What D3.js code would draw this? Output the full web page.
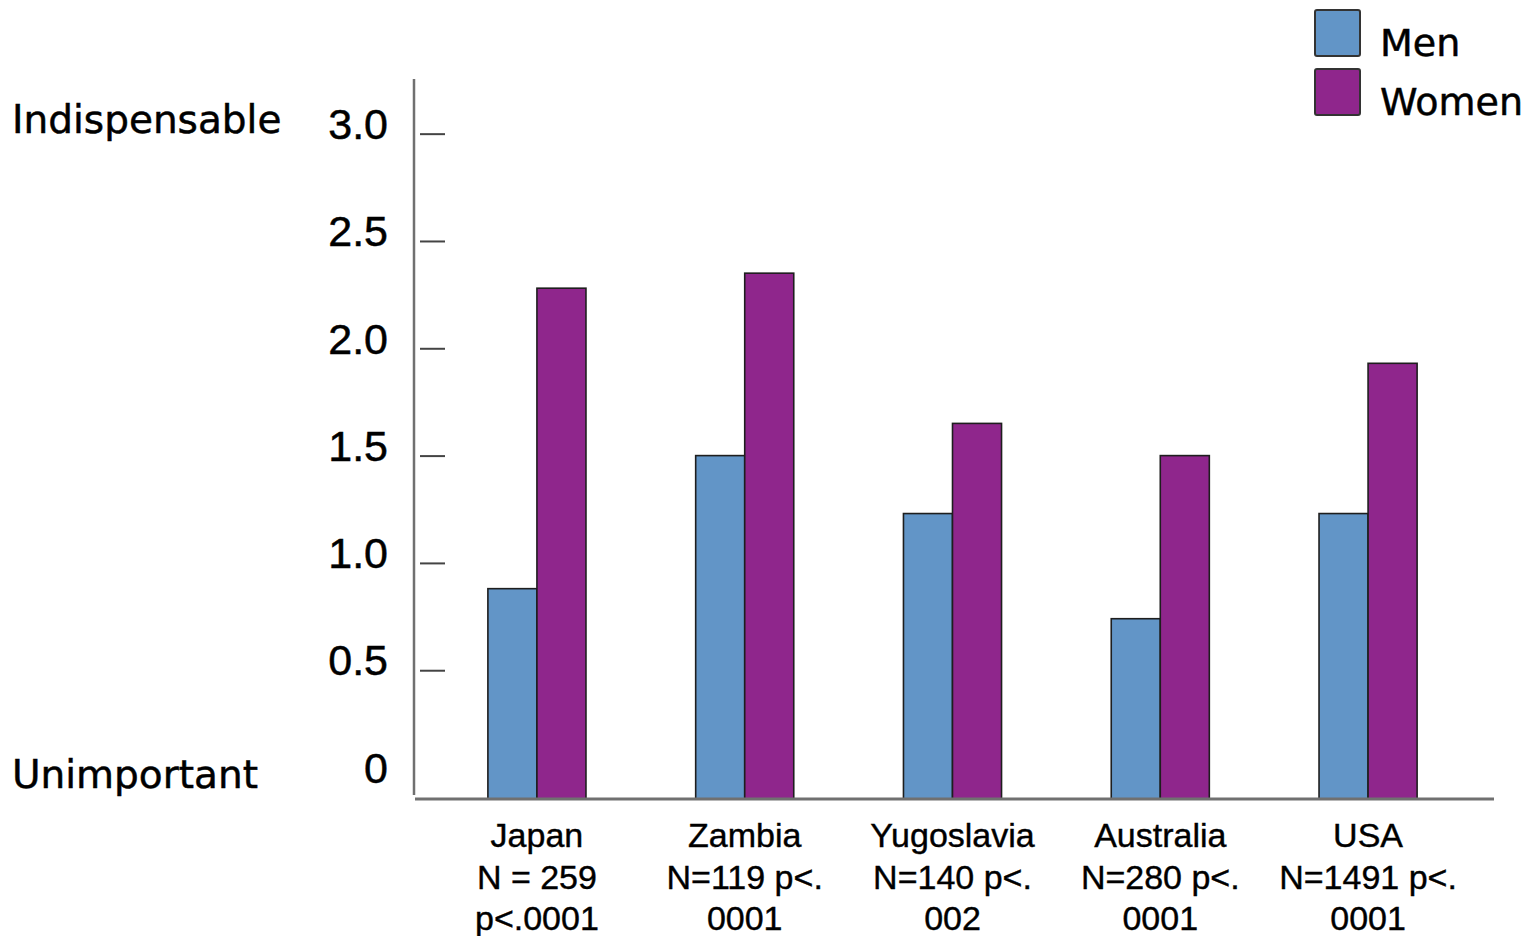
<!DOCTYPE html>
<html>
<head>
<meta charset="utf-8">
<script src="https://cdn.jsdelivr.net/npm/d3@7"></script>
<style>
  html, body { margin: 0; padding: 0; background: #fff; }
  svg { display: block; }
</style>
</head>
<body>
<script>
// ---- data ----
const countries = ["Japan", "Zambia", "Yugoslavia", "Australia", "USA"];
const countryLabels = [
  ["Japan", "N = 259", "p<.0001"],
  ["Zambia", "N=119 p<.", "0001"],
  ["Yugoslavia", "N=140 p<.", "002"],
  ["Australia", "N=280 p<.", "0001"],
  ["USA", "N=1491 p<.", "0001"]
];
const series = ["Men", "Women"];
const menValues = [0.88, 1.50, 1.23, 0.74, 1.23];
const womenValues = [2.28, 2.35, 1.65, 1.50, 1.93];
const tickValues = [0, 0.5, 1.0, 1.5, 2.0, 2.5, 3.0];
const tickLabels = ["0", "0.5", "1.0", "1.5", "2.0", "2.5", "3.0"];
const tickMarkValues = [0.5, 1.0, 1.5, 2.0, 2.5, 3.0];
const topLabel = "Indispensable";
const bottomLabel = "Unimportant";

const colors = { Men: "#6295c7", Women: "#8f268c" };

const W = 1533, H = 936;
const svg = d3.select("body").append("svg").attr("width", W).attr("height", H);
svg.append("rect").attr("width", W).attr("height", H).attr("fill", "#fff");

const y = d3.scaleLinear().domain([-0.1, 3.25]).range([799, 80]);
const x0 = d3.scaleBand().domain(countries).range([384, 1521])
  .paddingInner(0.528).paddingOuter(0.5);
const x1 = d3.scaleBand().domain(series).range([0, x0.bandwidth()]).padding(0);

const rows = countries.map((c, i) => ({ country: c, Men: menValues[i], Women: womenValues[i] }));

// bars
const groups = svg.append("g").selectAll("g").data(rows).join("g")
  .attr("transform", d => `translate(${x0(d.country)},0)`);
groups.selectAll("rect").data(d => series.map(s => ({ key: s, value: d[s] })))
  .join("rect")
  .attr("x", d => x1(d.key))
  .attr("width", x1.bandwidth())
  .attr("y", d => y(d.value))
  .attr("height", d => y(-0.1) - y(d.value))
  .attr("fill", d => colors[d.key])
  .attr("stroke", "#1e1e1e")
  .attr("stroke-width", 1.6);

// y axis line
svg.append("line")
  .attr("x1", 414).attr("x2", 414)
  .attr("y1", y(3.25) - 1).attr("y2", y(-0.1) - 4)
  .attr("stroke", "#707070").attr("stroke-width", 2.5);

// baseline
svg.append("line")
  .attr("x1", 415).attr("x2", 1494)
  .attr("y1", y(-0.1)).attr("y2", y(-0.1))
  .attr("stroke", "#707070").attr("stroke-width", 3);

// tick marks (detached from axis line)
const tickAxis = d3.axisRight(y).tickValues(tickMarkValues).tickSize(25).tickFormat("");
const tg = svg.append("g").attr("transform", "translate(420,0)").call(tickAxis);
tg.select(".domain").remove();
tg.selectAll(".tick line").attr("stroke", "#444").attr("stroke-width", 2);

// tick labels
const labelAxis = d3.axisLeft(y).tickValues(tickValues).tickSize(0).tickPadding(0)
  .tickFormat((d, i) => tickLabels[i]);
const lg = svg.append("g").attr("transform", "translate(388,0)").call(labelAxis);
lg.select(".domain").remove();
lg.selectAll(".tick text")
  .attr("font-family", "'Liberation Sans', Arial, sans-serif")
  .attr("font-size", 43)
  .attr("fill", "#000")
  .attr("stroke", "#000").attr("stroke-width", 0.5)
  .attr("dy", "0.32em")
  .attr("y", -9);

// left descriptive labels
svg.append("text").attr("x", 12).attr("y", 133).text(topLabel)
  .attr("font-family", "'DejaVu Sans', Verdana, sans-serif").attr("font-size", 39)
  .attr("fill", "#000").attr("stroke", "#000").attr("stroke-width", 0.5);
svg.append("text").attr("x", 12).attr("y", 788).text(bottomLabel)
  .attr("font-family", "'DejaVu Sans', Verdana, sans-serif").attr("font-size", 39)
  .attr("fill", "#000").attr("stroke", "#000").attr("stroke-width", 0.5);

// category labels
const cl = svg.append("g").selectAll("text").data(countries).join("text")
  .attr("x", d => x0(d) + x0.bandwidth() / 2)
  .attr("y", 847)
  .attr("text-anchor", "middle")
  .attr("font-family", "'Liberation Sans', Arial, sans-serif")
  .attr("font-size", 34)
  .attr("fill", "#000").attr("stroke", "#000").attr("stroke-width", 0.4);
cl.selectAll("tspan").data((d, i) => countryLabels[i]).join("tspan")
  .attr("x", function () { return d3.select(this.parentNode).attr("x"); })
  .attr("dy", (d, i) => i === 0 ? 0 : 41.5)
  .text(d => d);

// legend
const legend = svg.append("g").attr("transform", "translate(1315,10)");
series.forEach((s, i) => {
  const g = legend.append("g").attr("transform", `translate(0,${i * 59})`);
  g.append("rect").attr("width", 45).attr("height", 46).attr("rx", 2)
    .attr("fill", colors[s]).attr("stroke", "#333").attr("stroke-width", 2);
  g.append("text").attr("x", 65).attr("y", 46).text(s)
    .attr("font-family", "'DejaVu Sans', Verdana, sans-serif").attr("font-size", 38)
    .attr("fill", "#000").attr("stroke", "#000").attr("stroke-width", 0.5);
});
</script>
</body>
</html>
